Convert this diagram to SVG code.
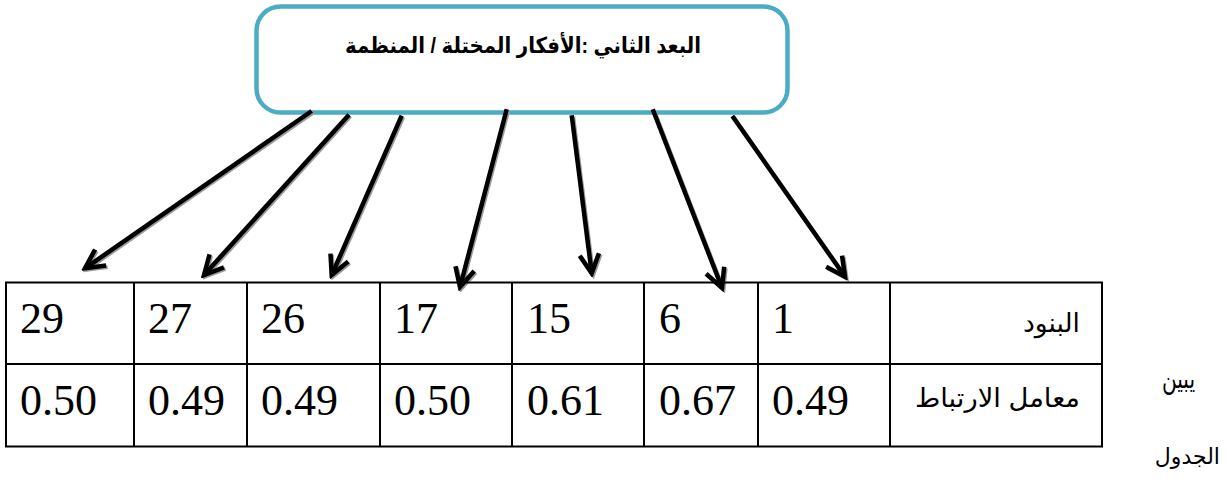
<svg xmlns="http://www.w3.org/2000/svg" width="1229" height="481" viewBox="0 0 1229 481">
<style>
.box{fill:#ffffff;stroke:#4bacc6;stroke-width:4.5}
.title{font-family:'Liberation Sans','DejaVu Sans',sans-serif;font-weight:bold;font-size:22px;fill:#000}
.grid{stroke:#000;stroke-width:2;fill:none}
.num{font-family:'Liberation Serif','Times New Roman','DejaVu Serif',serif;font-size:44px;fill:#000}
.ar{font-family:'Liberation Sans','DejaVu Sans',sans-serif;font-size:26px;fill:#000}
.ar2{font-family:'Liberation Sans','DejaVu Sans',sans-serif;font-size:28px;fill:#000}
.ar3{font-family:'Liberation Sans','DejaVu Sans',sans-serif;font-size:22px;fill:#000}
.shaft{stroke:#000;stroke-width:4.5;fill:none;marker-end:url(#head)}
.shadow{stroke:#9a9a9a;stroke-width:4;fill:none;marker-end:url(#headS)}
</style>
<defs>
<marker id="head" markerUnits="userSpaceOnUse" viewBox="-24 -14 28 28" markerWidth="28" markerHeight="28" refX="0" refY="0" orient="auto">
<path d="M-19,-9.7 L0,0 L-19,9.7" fill="none" stroke="#000" stroke-width="4.5" stroke-linejoin="miter" stroke-miterlimit="10"/>
</marker>
<marker id="headS" markerUnits="userSpaceOnUse" viewBox="-24 -14 28 28" markerWidth="28" markerHeight="28" refX="0" refY="0" orient="auto">
<path d="M-19,-9.7 L0,0 L-19,9.7" fill="none" stroke="#9a9a9a" stroke-width="4" stroke-linejoin="miter" stroke-miterlimit="10"/>
</marker>
</defs>
<g id="node-title">
<rect class="box" x="256.5" y="6.5" width="531" height="106" rx="24" ry="24"/>
<text class="title" x="523" y="53" text-anchor="middle" textLength="356" lengthAdjust="spacingAndGlyphs">البعد الثاني :الأفكار المختلة / المنظمة</text>
</g>
<g id="connectors">
<g transform="translate(1.5,1.5)">
<path class="shadow" d="M311.7,111 L85,268.3"/>
<path class="shadow" d="M349,114.7 L204,275"/>
<path class="shadow" d="M401.7,115.7 L331.7,275"/>
<path class="shadow" d="M506.7,109.3 L460,287"/>
<path class="shadow" d="M571.7,115.3 L591.7,273.3"/>
<path class="shadow" d="M652.7,109.3 L722,288"/>
<path class="shadow" d="M732.3,116 L845,276.7"/>
</g>
<path class="shaft" d="M311.7,111 L85,268.3"/>
<path class="shaft" d="M349,114.7 L204,275"/>
<path class="shaft" d="M401.7,115.7 L331.7,275"/>
<path class="shaft" d="M506.7,109.3 L460,287"/>
<path class="shaft" d="M571.7,115.3 L591.7,273.3"/>
<path class="shaft" d="M652.7,109.3 L722,288"/>
<path class="shaft" d="M732.3,116 L845,276.7"/>
</g>
<g id="node-table">
<rect class="grid" x="6" y="282.5" width="1096" height="164"/>
<path class="grid" d="M6,364 H1102 M134,282.5 V446.5 M247,282.5 V446.5 M380,282.5 V446.5 M512,282.5 V446.5 M644,282.5 V446.5 M758,282.5 V446.5 M890,282.5 V446.5"/>
<text class="num" x="20" y="333">29</text>
<text class="num" x="148" y="333">27</text>
<text class="num" x="261" y="333">26</text>
<text class="num" x="394" y="333">17</text>
<text class="num" x="527" y="333">15</text>
<text class="num" x="659" y="333">6</text>
<text class="num" x="772" y="333">1</text>
<text class="ar" x="1023" y="332" textLength="57" lengthAdjust="spacingAndGlyphs">البنود</text>
<text class="num" x="20" y="415">0.50</text>
<text class="num" x="148" y="415">0.49</text>
<text class="num" x="261" y="415">0.49</text>
<text class="num" x="394" y="415">0.50</text>
<text class="num" x="527" y="415">0.61</text>
<text class="num" x="659" y="415">0.67</text>
<text class="num" x="772" y="415">0.49</text>
<text class="ar" x="915" y="407" textLength="165" lengthAdjust="spacingAndGlyphs">معامل الارتباط</text>
</g>
<g id="caption">
<text class="ar2" x="1195" y="388" text-anchor="end" textLength="33" lengthAdjust="spacingAndGlyphs">يبين</text>
<text class="ar3" x="1220" y="464" text-anchor="end">الجدول</text>
</g>
</svg>
